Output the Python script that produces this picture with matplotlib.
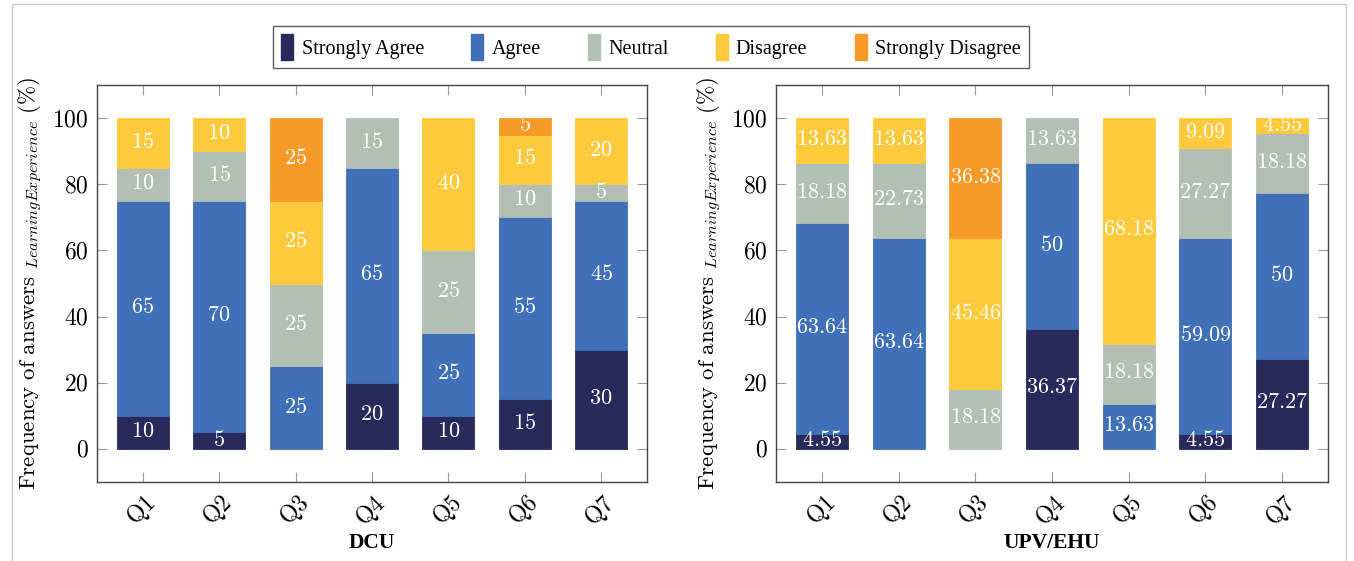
import matplotlib
matplotlib.use("Agg")
import matplotlib.pyplot as plt
import matplotlib.patches as mpatches
from matplotlib.ticker import FuncFormatter
import numpy as np

plt.rcParams['mathtext.fontset'] = 'cm'
plt.rcParams['font.family'] = ['Liberation Serif', 'DejaVu Serif']

questions = ["Q1", "Q2", "Q3", "Q4", "Q5", "Q6", "Q7"]
categories = ["Strongly Agree", "Agree", "Neutral", "Disagree", "Strongly Disagree"]
colors = ["#272a5b", "#4070b8", "#b2bfb4", "#fdca3e", "#f79a27"]

dcu_sa = [10, 5, 0, 20, 10, 15, 30]
dcu_a = [65, 70, 25, 65, 25, 55, 45]
dcu_n = [10, 15, 25, 15, 25, 10, 5]
dcu_d = [15, 10, 25, 0, 40, 15, 20]
dcu_sd = [0, 0, 25, 0, 0, 5, 0]

upv_sa = [4.55, 0, 0, 36.37, 0, 4.55, 27.27]
upv_a = [63.64, 63.64, 0, 50, 13.63, 59.09, 50]
upv_n = [18.18, 22.73, 18.18, 13.63, 18.18, 27.27, 18.18]
upv_d = [13.63, 13.63, 45.46, 0, 68.18, 9.09, 4.55]
upv_sd = [0, 0, 36.38, 0, 0, 0, 0]

yticks = [0, 20, 40, 60, 80, 100]

fig = plt.figure(figsize=(13.54, 5.61), dpi=100)
ax1 = fig.add_axes([0.0716, 0.1408, 0.4062, 0.7077])
ax2 = fig.add_axes([0.5731, 0.1408, 0.4077, 0.7077])


def fmt_label(v):
    if float(v).is_integer():
        return r'$%d$' % int(v)
    return r'$%.2f$' % v


def draw(ax, series, title):
    x = np.arange(len(questions))
    bottom = np.zeros(len(questions))
    for vals, col in zip(series, colors):
        vals = np.array(vals, dtype=float)
        lw = [0.6 if v > 0 else 0 for v in vals]
        ax.bar(x, vals, 0.68, bottom=bottom, color=col, edgecolor=col,
               linewidth=lw, zorder=2)
        for xi, v, b in zip(x, vals, bottom):
            if v > 0:
                ax.text(xi, b + v / 2, fmt_label(v), ha='center', va='center',
                        color='white', fontsize=16, zorder=3)
        bottom += vals
    ax.set_xlim(-0.6, 6.6)
    ax.set_ylim(-10, 110)
    ax.set_yticks(yticks)
    ax.yaxis.set_major_formatter(FuncFormatter(lambda v, p: r'$%d$' % v))
    ax.set_xticks(x)
    ax.set_xticklabels([r'$\mathrm{%s}$' % q for q in questions], rotation=45,
                       ha='right', rotation_mode='anchor', fontsize=17)
    ax.tick_params(axis='y', labelsize=17)
    ax.tick_params(direction='in', length=7, width=0.8, color='#999999',
                   top=True, right=True, pad=6)
    for s in ax.spines.values():
        s.set_color('#444444')
        s.set_linewidth(1.0)
    ax.set_ylabel(r'$\mathrm{Frequency\ of\ answers}\ _{LearningExperience}\ (\%)$',
                  fontsize=16.5, labelpad=5)
    bb = ax.get_position()
    fig.text((bb.x0 + bb.x1) / 2, 1 - 543 / 561, title, ha='center', va='center',
             fontsize=15.5, fontweight='bold')


draw(ax1, [dcu_sa, dcu_a, dcu_n, dcu_d, dcu_sd], "DCU")
draw(ax2, [upv_sa, upv_a, upv_n, upv_d, upv_sd], "UPV/EHU")

handles = [mpatches.Patch(facecolor=c, edgecolor=c, label=l)
           for c, l in zip(colors, categories)]
leg = fig.legend(handles=handles, loc='center', bbox_to_anchor=(0.4808, 0.916),
                 ncol=5, frameon=True, fancybox=False, fontsize=14.5,
                 handlelength=0.6, handleheight=1.6, handletextpad=0.4,
                 columnspacing=2.35, borderpad=0.4, edgecolor='#333333')
leg.get_frame().set_linewidth(1.0)

fig.add_artist(mpatches.Rectangle((0.009, -0.01), 0.985, 1.002, transform=fig.transFigure,
                                  fill=False, edgecolor='#cccccc', linewidth=1.0))

fig.savefig("out.png", dpi=100)
